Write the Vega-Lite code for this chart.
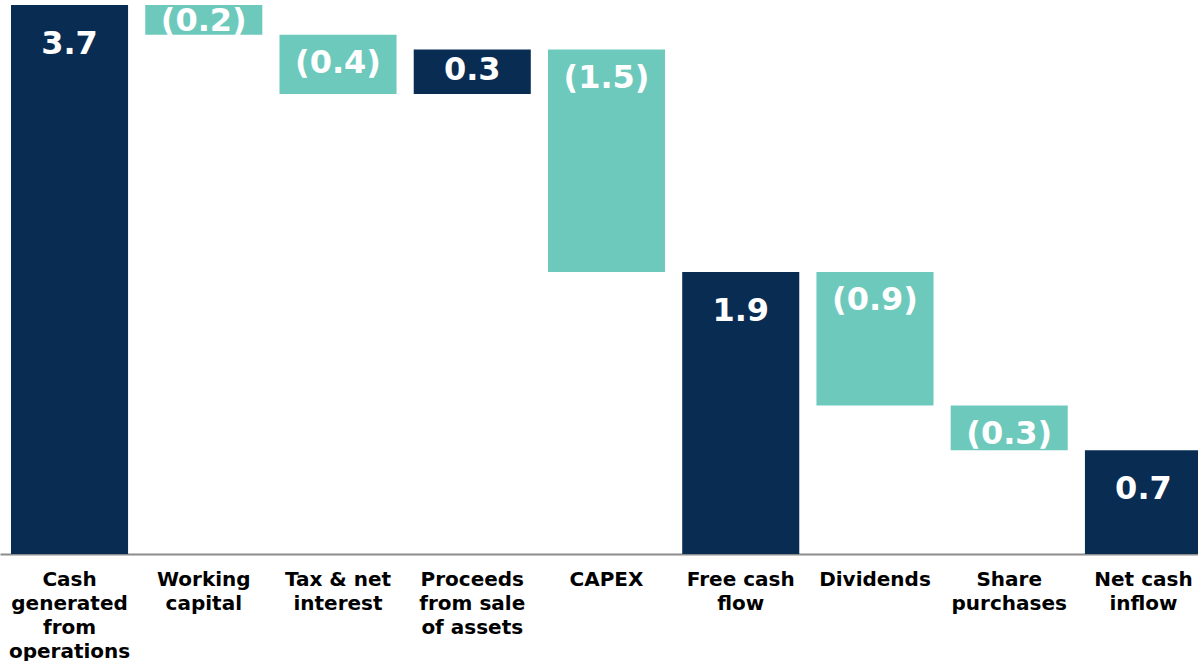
{
  "$schema": "https://vega.github.io/schema/vega-lite/v6.json",
  "width": 1198,
  "height": 549,
  "autosize": {"type": "none"},
  "padding": {"left": 0, "top": 5, "right": 0, "bottom": 107},
  "background": "white",
  "config": {"view": {"stroke": null}, "font": "DejaVu Sans"},
  "data": {"values": [
    {"category": "Cash generated from operations", "start": 0, "end": 3.7, "type": "total", "label": "3.7"},
    {"category": "Working capital", "start": 3.7, "end": 3.5, "type": "decrease", "label": "(0.2)"},
    {"category": "Tax & net interest", "start": 3.5, "end": 3.1, "type": "decrease", "label": "(0.4)"},
    {"category": "Proceeds from sale of assets", "start": 3.1, "end": 3.4, "type": "increase", "label": "0.3"},
    {"category": "CAPEX", "start": 3.4, "end": 1.9, "type": "decrease", "label": "(1.5)"},
    {"category": "Free cash flow", "start": 0, "end": 1.9, "type": "total", "label": "1.9"},
    {"category": "Dividends", "start": 1.9, "end": 1.0, "type": "decrease", "label": "(0.9)"},
    {"category": "Share purchases", "start": 1.0, "end": 0.7, "type": "decrease", "label": "(0.3)"},
    {"category": "Net cash inflow", "start": 0, "end": 0.7, "type": "total", "label": "0.7"}
  ]},
  "encoding": {
    "x": {
      "field": "category",
      "type": "nominal",
      "sort": null,
      "scale": {"range": [0, 1213], "paddingInner": 0.128, "paddingOuter": 0.082},
      "axis": {
        "title": null,
        "labelAngle": 0,
        "labelBaseline": "top",
        "labelPadding": 15,
        "ticks": false,
        "domainColor": "#8c8c8c",
        "domainWidth": 2,
        "labelFont": "DejaVu Sans",
        "labelFontSize": 20,
        "labelFontWeight": "bold",
        "labelColor": "#000000",
        "labelLineHeight": 24,
        "labelOverlap": false,
        "labelLimit": 0,
        "labelExpr": "{'Cash generated from operations': ['Cash', 'generated', 'from', 'operations'], 'Working capital': ['Working', 'capital'], 'Tax & net interest': ['Tax & net', 'interest'], 'Proceeds from sale of assets': ['Proceeds', 'from sale', 'of assets'], 'CAPEX': ['CAPEX'], 'Free cash flow': ['Free cash', 'flow'], 'Dividends': ['Dividends'], 'Share purchases': ['Share', 'purchases'], 'Net cash inflow': ['Net cash', 'inflow']}[datum.value]"
      }
    }
  },
  "layer": [
    {
      "mark": {"type": "bar"},
      "encoding": {
        "y": {"field": "start", "type": "quantitative", "scale": {"domain": [0, 3.7], "nice": false, "zero": true}, "axis": null},
        "y2": {"field": "end"},
        "color": {"field": "type", "type": "nominal", "scale": {"domain": ["total", "increase", "decrease"], "range": ["#092c52", "#092c52", "#6ec9bd"]}, "legend": null}
      }
    },
    {
      "transform": [{"filter": "datum.type == 'total'"}],
      "mark": {"type": "text", "color": "white", "fontSize": 32, "fontWeight": "bold", "font": "DejaVu Sans", "baseline": "middle", "dy": 39},
      "encoding": {
        "y": {"field": "end", "type": "quantitative", "scale": {"domain": [0, 3.7], "nice": false, "zero": true}, "axis": null},
        "text": {"field": "label"}
      }
    },
    {
      "transform": [{"filter": "datum.type == 'increase'"}],
      "mark": {"type": "text", "color": "white", "fontSize": 32, "fontWeight": "bold", "font": "DejaVu Sans", "baseline": "middle", "dy": 20},
      "encoding": {
        "y": {"field": "end", "type": "quantitative", "scale": {"domain": [0, 3.7], "nice": false, "zero": true}, "axis": null},
        "text": {"field": "label"}
      }
    },
    {
      "transform": [{"filter": "datum.type == 'decrease' && datum.start - datum.end > 0.25"}],
      "mark": {"type": "text", "color": "white", "fontSize": 32, "fontWeight": "bold", "font": "DejaVu Sans", "baseline": "middle", "dy": 28},
      "encoding": {
        "y": {"field": "start", "type": "quantitative", "scale": {"domain": [0, 3.7], "nice": false, "zero": true}, "axis": null},
        "text": {"field": "label"}
      }
    },
    {
      "transform": [{"filter": "datum.type == 'decrease' && datum.start - datum.end <= 0.25"}],
      "mark": {"type": "text", "color": "white", "fontSize": 32, "fontWeight": "bold", "font": "DejaVu Sans", "baseline": "middle", "dy": 16},
      "encoding": {
        "y": {"field": "start", "type": "quantitative", "scale": {"domain": [0, 3.7], "nice": false, "zero": true}, "axis": null},
        "text": {"field": "label"}
      }
    }
  ]
}
